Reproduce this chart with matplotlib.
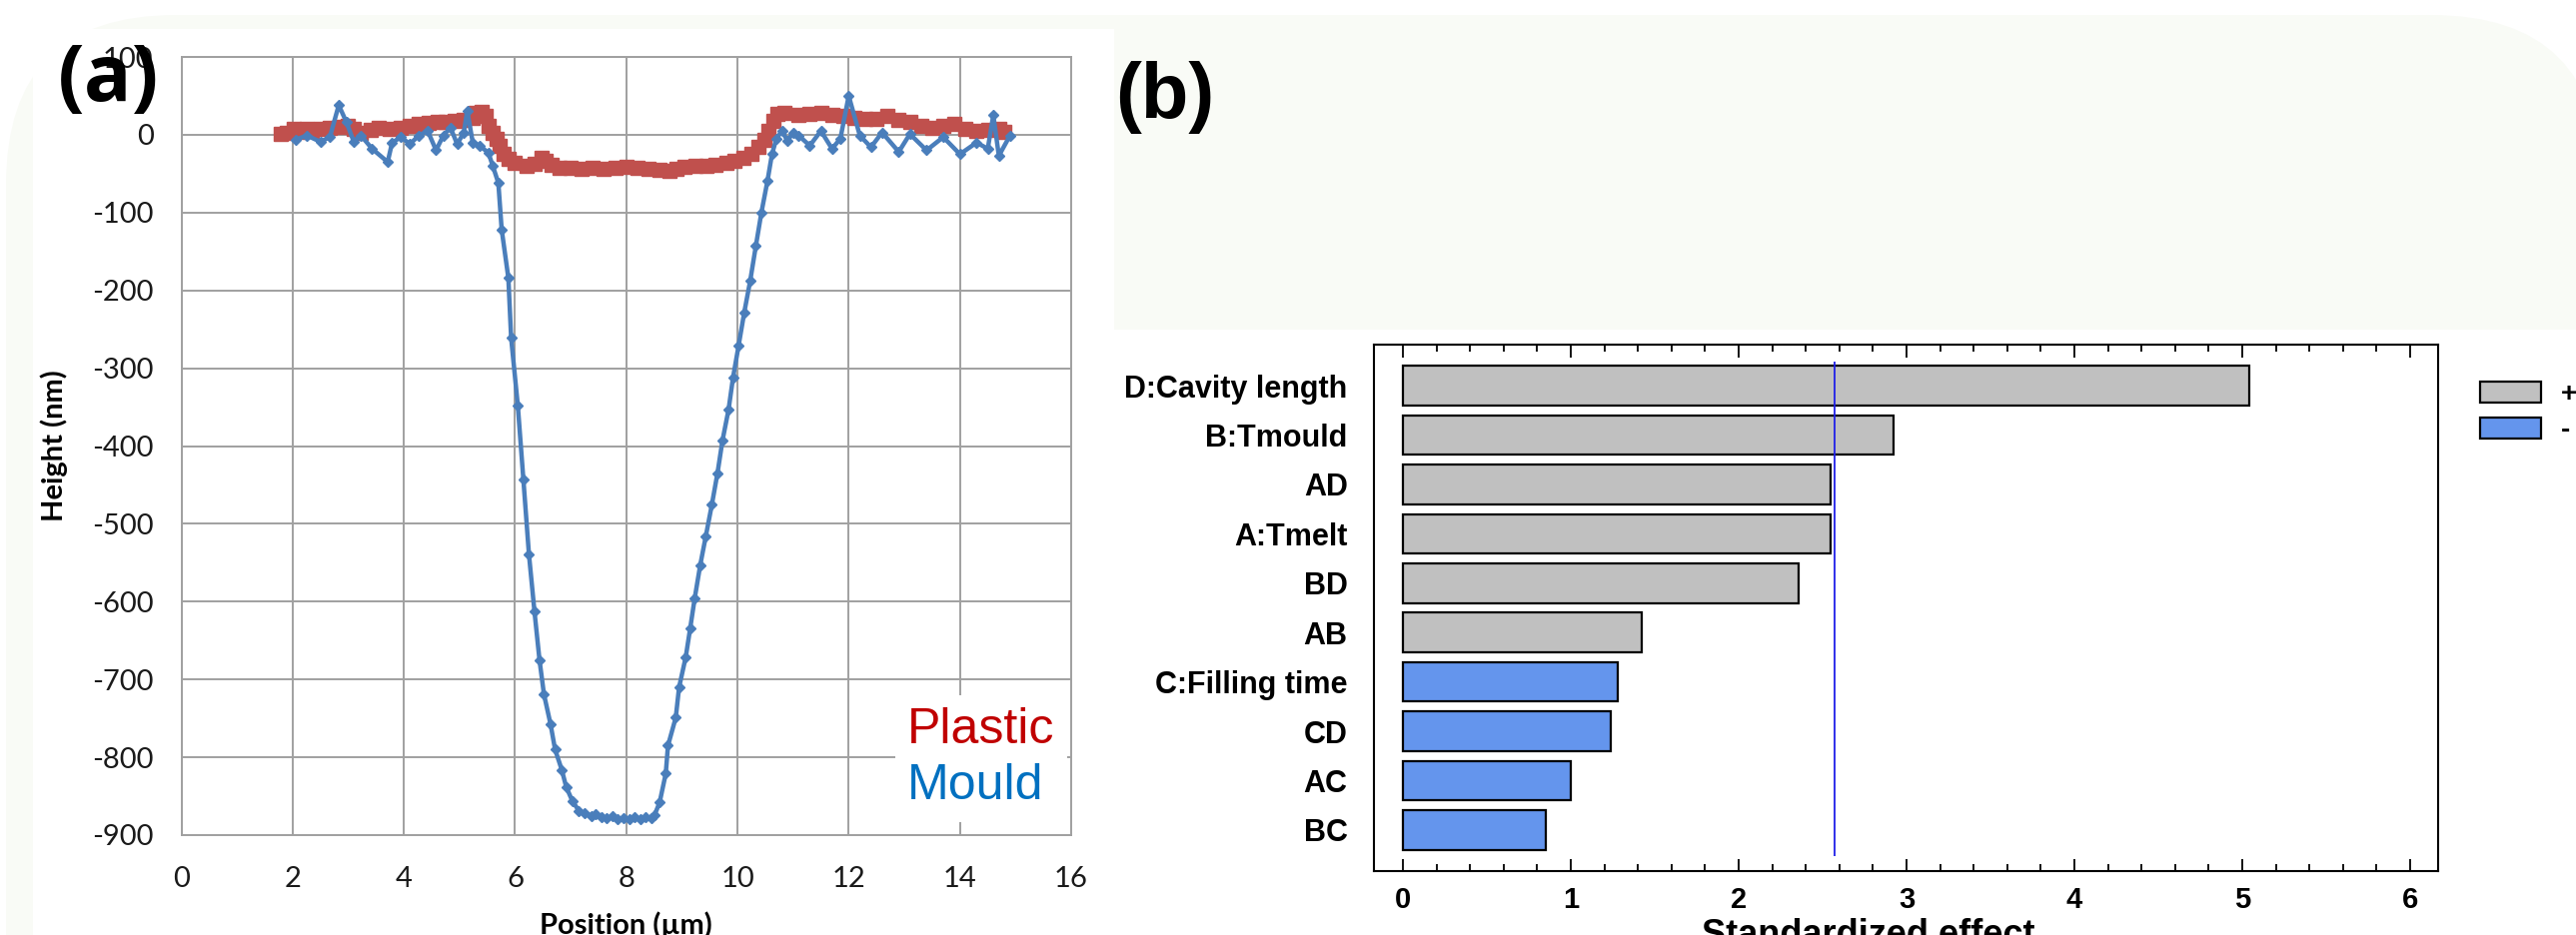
import numpy as np
import matplotlib.pyplot as plt
from matplotlib.patches import FancyBboxPatch, Rectangle, Patch
from matplotlib.ticker import MultipleLocator

plt.rcParams["axes.unicode_minus"] = False

# ---- data, panel (a): height profile
mould_x = [2.06, 2.26, 2.5, 2.67, 2.83, 2.97, 3.1, 3.23, 3.43, 3.71, 3.79, 3.95, 4.11,
           4.27, 4.43, 4.58, 4.71, 4.84, 4.96, 5.08, 5.14, 5.24, 5.36, 5.52, 5.6, 5.7,
           5.76, 5.88, 5.93, 6.05, 6.15, 6.25, 6.35, 6.44, 6.52, 6.64, 6.72, 6.84, 6.92,
           7.03, 7.15, 7.25, 7.38, 7.45, 7.55, 7.65, 7.75, 7.85, 7.95, 8.05, 8.15, 8.25,
           8.35, 8.45, 8.51, 8.6, 8.71, 8.75, 8.89, 8.95, 9.07, 9.15, 9.23, 9.33, 9.43,
           9.54, 9.64, 9.73, 9.84, 9.92, 10.02, 10.12, 10.23, 10.33, 10.43, 10.54, 10.62,
           10.7, 10.8, 10.9, 11.0, 11.1, 11.3, 11.5, 11.7, 11.85, 12.0, 12.2, 12.4, 12.6,
           12.9, 13.1, 13.4, 13.7, 14.0, 14.3, 14.5, 14.6, 14.7, 14.9]
mould_y = [-6, -1, -9, -3, 38, 16, -9, -1, -18, -35, -10, -3, -12,
           -1, 5, -20, -1, 9, -12, 3, 31, -10, -14, -23, -40, -62,
           -122, -184, -261, -348, -443, -539, -613, -675, -719, -758, -790, -816, -838,
           -856, -869, -872, -875, -873, -877, -878, -876, -879, -878, -880, -877, -879,
           -877, -878, -874, -858, -821, -785, -749, -710, -671, -634, -596, -553, -516,
           -475, -435, -393, -353, -312, -271, -229, -187, -143, -100, -59, -25,
           -5, 5, -8, 3, -1, -14, 5, -18, -5, 50, -1, -16, 3,
           -22, 1, -20, -3, -25, -10, -18, 25, -27, -1]

plastic_x = [1.78, 1.9, 2.02, 2.15, 2.25, 2.35, 2.5, 2.67, 2.85, 2.99, 3.1, 3.23, 3.4,
             3.55, 3.75, 3.95, 4.1, 4.27, 4.45, 4.6, 4.75, 4.92, 5.08, 5.24, 5.3, 5.4,
             5.48, 5.53, 5.6, 5.66, 5.72, 5.8, 5.88, 6.0, 6.2, 6.35, 6.47, 6.55, 6.65,
             6.8, 7.0, 7.2, 7.4, 7.6, 7.8, 8.0, 8.2, 8.4, 8.6, 8.77, 8.9, 9.05, 9.25,
             9.45, 9.6, 9.8, 9.95, 10.1, 10.25, 10.38, 10.48, 10.56, 10.64, 10.72, 10.85,
             11.1, 11.3, 11.5, 11.7, 11.9, 12.1, 12.3, 12.5, 12.7, 12.9, 13.1, 13.3, 13.5,
             13.7, 13.9, 14.1, 14.3, 14.5, 14.7, 14.8]
plastic_y = [1, 3, 7, 4, 8, 5, 7, 9, 10, 11, 7, 3, 6,
             9, 8, 9, 11, 14, 15, 17, 16, 18, 19, 22, 28, 29,
             24, 12, 3, -5, -14, -24, -31, -36, -40, -37, -30, -33, -39,
             -42, -43, -44, -43, -44, -42, -41, -43, -44, -45, -46, -44, -41, -40,
             -40, -38, -36, -34, -30, -24, -16, -6, 5, 18, 27, 28,
             26, 27, 28, 25, 24, 22, 20, 21, 24, 19, 16, 12, 9,
             12, 14, 8, 5, 6, 7, 4]

# ---- data, panel (b): standardized effects
effects = ["D:Cavity length", "B:Tmould", "AD", "A:Tmelt", "BD", "AB",
           "C:Filling time", "CD", "AC", "BC"]
effect_vals = [5.04, 2.92, 2.55, 2.55, 2.36, 1.42, 1.28, 1.24, 1.00, 0.85]
effect_sign = ["+", "+", "+", "+", "+", "+", "-", "-", "-", "-"]
crit_val = 2.57

W, H = 2578, 936
fig = plt.figure(figsize=(W / 100, H / 100), dpi=100)
fig.patch.set_facecolor("white")

# background (pixel coordinates)
bg = fig.add_axes([0, 0, 1, 1])
bg.set_xlim(0, W)
bg.set_ylim(H, 0)
bg.axis("off")
bg.set_zorder(-5)
bg.add_patch(FancyBboxPatch((6, 15), W + 19, H + 200,
                            boxstyle="round,pad=0,rounding_size=170",
                            fc="#f9fbf6", ec="none"))
bg.add_patch(Rectangle((33, 29), 1115 - 33, H, fc="white", ec="none"))
bg.add_patch(Rectangle((1114, 330), W, H, fc="white", ec="none"))

# ---- panel (a)
ax1 = fig.add_axes([181.5 / W, 1 - 836 / H, (1072 - 181.5) / W, (836 - 57) / H])
ax1.set_facecolor("white")
ax1.plot(plastic_x, plastic_y, color="#c0504d", lw=3.5, marker="s", ms=10,
         mec="#c0504d", mfc="#c0504d", label="Plastic", zorder=3)
ax1.plot(mould_x, mould_y, color="#4a7ebb", lw=3.2, marker="D", ms=5,
         mec="#4a7ebb", mfc="#4a7ebb", label="Mould", zorder=4)
ax1.set_xlim(0, 16)
ax1.set_ylim(-900, 100)
ax1.set_xticks(np.arange(0, 17, 2))
ax1.set_yticks(np.arange(-900, 101, 100))
ax1.grid(True, color="#a0a0a0", lw=1.4)
ax1.set_axisbelow(True)
for s in ax1.spines.values():
    s.set_color("#a0a0a0")
    s.set_linewidth(1.4)
ax1.tick_params(axis="both", length=0, labelsize=21, colors="#1a1a1a")
ax1.tick_params(axis="y", pad=20)
ax1.tick_params(axis="x", pad=22)
for t in ax1.get_xticklabels() + ax1.get_yticklabels():
    t.set_fontfamily(["Lato", "DejaVu Sans"])
ax1.set_xlabel("Position (µm)", fontsize=21, fontweight="bold",
               fontfamily=["Lato", "DejaVu Sans"])
ax1.set_ylabel("Height (nm)", fontsize=21, fontweight="bold",
               fontfamily=["Lato", "DejaVu Sans"])
ax1.xaxis.set_label_coords(0.5, -0.098)
ax1.yaxis.set_label_coords(-0.128, 0.5)

leg = ax1.legend(loc="lower right", bbox_to_anchor=(0.9955, 0.0167),
                 handlelength=0, handletextpad=0, frameon=True, framealpha=1,
                 edgecolor="none", facecolor="white", fancybox=False,
                 prop={"family": "Liberation Sans", "size": 36},
                 labelspacing=0.2, borderpad=0.25, borderaxespad=0)
for h in leg.legend_handles:
    h.set_visible(False)
for t, c in zip(leg.get_texts(), ["#c00000", "#0070c0"]):
    t.set_color(c)

# ---- panel (b)
ax2 = fig.add_axes([1375 / W, 1 - 872 / H, (2440 - 1375) / W, (872 - 345) / H])
ypos = np.arange(len(effects))[::-1]
colors = ["#c0c0c0" if s == "+" else "#6495ed" for s in effect_sign]
ax2.barh(ypos, effect_vals, height=0.8, color=colors, edgecolor="black", lw=1.6, zorder=2)
ax2.vlines(crit_val, -0.53, 9.49, color="#2020e8", lw=1.3, zorder=3)
ax2.set_xlim(-0.173, 6.167)
ax2.set_ylim(-0.83, 9.83)
ax2.set_yticks(ypos)
ax2.set_yticklabels(effects)
ax2.xaxis.set_major_locator(MultipleLocator(1))
ax2.xaxis.set_minor_locator(MultipleLocator(0.2))
ax2.tick_params(axis="x", which="both", direction="in", top=True, bottom=True,
                width=1.3, colors="black", labelsize=21, pad=11)
ax2.tick_params(axis="x", which="major", length=9)
ax2.tick_params(axis="x", which="minor", length=5)
ax2.tick_params(axis="y", length=0, pad=19, labelsize=22)
for t in ax2.get_xticklabels() + ax2.get_yticklabels():
    t.set_fontfamily(["Liberation Sans", "DejaVu Sans"])
    t.set_fontweight("bold")
for s in ax2.spines.values():
    s.set_linewidth(1.5)
ax2.set_xlabel("Standardized effect", fontsize=26, fontweight="bold",
               fontfamily=["Liberation Sans", "DejaVu Sans"])
ax2.xaxis.set_label_coords(0.465, -0.09)

leg2 = ax2.legend(handles=[Patch(fc="#c0c0c0", ec="black", lw=1.6),
                           Patch(fc="#6495ed", ec="black", lw=1.6)],
                  labels=["+", "-"], loc="upper left", bbox_to_anchor=(1.0394, 0.93),
                  frameon=False, borderpad=0, borderaxespad=0,
                  handlelength=2.2, handleheight=0.8, handletextpad=0.7,
                  labelspacing=0.35,
                  prop={"family": "Liberation Sans", "size": 20, "weight": "bold"})

# panel letters
fig.text(109 / W, 1 - 80 / H, "(a)", fontsize=57, fontweight="bold",
         fontfamily=["Open Sans", "DejaVu Sans"], ha="center", va="center", zorder=10)
fig.text(1166 / W, 1 - 97 / H, "(b)", fontsize=56, fontweight="bold",
         fontfamily=["Liberation Sans", "DejaVu Sans"], ha="center", va="center", zorder=10)

fig.savefig("out.png", dpi=100)
